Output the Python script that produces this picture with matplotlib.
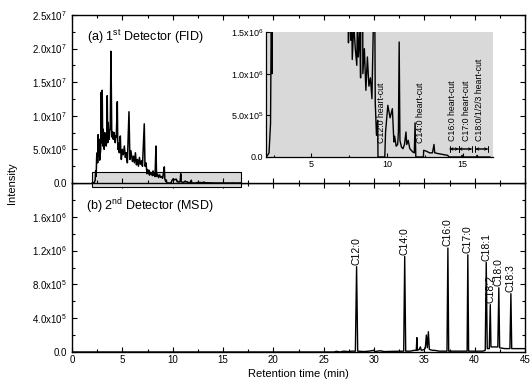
import matplotlib
matplotlib.use("Agg")
import matplotlib.pyplot as plt
from matplotlib.patches import Rectangle
from matplotlib.ticker import MultipleLocator, FixedLocator

plt.rcParams['font.family'] = ['Liberation Sans', 'DejaVu Sans']
plt.rcParams['mathtext.fontset'] = 'custom'
plt.rcParams['mathtext.rm'] = 'Liberation Sans'
plt.rcParams['mathtext.it'] = 'Liberation Sans'

# ---------------- data ----------------
# FID trace (1st detector), time in min, intensity in units of 1e6
fid_t = [2.0, 2.1, 2.2, 2.3, 2.35, 2.4, 2.45, 2.5, 2.55, 2.6, 2.65, 2.7, 2.75, 2.8, 2.85, 2.9,
         2.95, 3.0, 3.05, 3.1, 3.15, 3.2, 3.25, 3.3, 3.35, 3.4, 3.45, 3.5, 3.55, 3.6, 3.65, 3.7,
         3.75, 3.8, 3.87, 3.95, 4.0, 4.05, 4.1, 4.15, 4.2, 4.25, 4.3, 4.35, 4.4, 4.5, 4.55, 4.6,
         4.65, 4.7, 4.75, 4.8, 4.85, 4.9, 5.0, 5.1, 5.2, 5.3, 5.4, 5.5, 5.66, 5.75, 5.85, 6.0,
         6.1, 6.2, 6.3, 6.4, 6.5, 6.6, 6.7, 6.8, 6.9, 7.0, 7.18, 7.25, 7.35, 7.4,
         7.45, 7.5, 7.6, 7.65, 7.7, 7.8, 7.9, 8.0, 8.05, 8.1, 8.2, 8.25, 8.34, 8.4, 8.5, 8.6,
         8.7, 8.8, 8.9, 9.0, 9.1, 9.17, 9.22, 9.3, 9.38, 9.4, 9.85, 9.9, 10.05, 10.2, 10.35,
         10.45, 10.5, 10.6, 10.7, 10.75, 10.8, 10.85, 10.95, 11.05, 11.15, 11.25, 11.3, 11.4,
         11.5, 11.6, 11.7, 11.8, 11.85, 11.9, 12.4, 12.42, 12.6, 12.8, 13.0, 13.1, 13.15, 13.4,
         13.7, 14.0, 14.1, 14.9, 14.95, 15.0, 15.9, 15.95, 16.0, 16.8]
fid_v = [0.0, 0.02, 0.05, 0.4, 1.8, 1.0, 3.9, 4.5, 3.0, 7.2, 4.0, 6.5, 3.4, 4.2, 5.0, 13.5,
         6.0, 13.8, 5.5, 8.0, 6.2, 5.0, 7.5, 7.0, 5.8, 5.5, 6.8, 13.0, 6.0, 9.0, 7.2, 6.5,
         7.8, 8.0, 19.6, 7.0, 6.8, 7.6, 6.5, 7.2, 7.5, 6.2, 6.0, 7.0, 6.8, 12.1, 5.0, 6.0,
         5.2, 4.5, 6.3, 7.0, 4.6, 3.5, 5.0, 4.2, 5.5, 3.8, 4.5, 3.0, 10.6, 3.5, 4.8, 3.2,
         4.0, 3.0, 4.5, 2.7, 3.5, 2.5, 3.8, 2.8, 3.3, 2.5, 8.8, 2.5, 3.0, 2.2,
         1.37, 2.0, 1.4, 1.9, 1.17, 1.6, 1.3, 1.1, 1.8, 1.2, 1.5, 0.95, 5.5, 1.0, 1.3, 0.8,
         1.2, 0.85, 0.95, 0.7, 1.6, 2.4, 0.65, 0.26, 0.44, 0.0, 0.0, 0.3, 0.62, 0.47, 0.58,
         0.18, 0.25, 0.13, 0.15, 0.3, 1.38, 0.2, 0.12, 0.1, 0.15, 0.3, 0.15, 0.2,
         0.1, 0.08, 0.06, 0.05, 0.41, 0.0, 0.0, 0.08, 0.07, 0.05, 0.05, 0.15, 0.05, 0.04,
         0.03, 0.02, 0.0, 0.0, 0.02, 0.0, 0.0, 0.02, 0.0, 0.0]

# MSD trace (2nd detector), intensity in units of 1e6
msd_t = [0, 26.0, 26.3, 26.6, 27.0, 27.4, 27.8, 28.15, 28.27, 28.38, 29.0, 29.5, 30.0, 30.1,
         30.6, 31.0, 32.0, 32.95, 33.05, 33.15, 33.6, 34.0, 34.2, 34.26, 34.32, 34.5, 34.6,
         34.7, 35.0, 35.1, 35.2, 35.3, 35.4, 35.5, 35.8, 36.0, 36.5, 37.0, 37.25, 37.34,
         37.42, 38.0, 39.0, 39.25, 39.32, 39.4, 40.0, 40.8, 41.05, 41.15, 41.25, 41.45, 41.55,
         41.62, 42.0, 42.3, 42.4, 42.48, 43.0, 43.5, 43.6, 43.68, 45.0]
msd_v = [0, 0, 0.008, 0, 0.01, 0.005, 0.01, 0.01, 1.01, 0.01, 0.005, 0.01, 0.02, 0.005,
         0.015, 0.005, 0.008, 0.01, 1.13, 0.01, 0.01, 0.02, 0.02, 0.17, 0.02, 0.03, 0.06,
         0.02, 0.03, 0.05, 0.2, 0.05, 0.24, 0.03, 0.02, 0.02, 0.01, 0.01, 0.01, 1.23,
         0.01, 0.01, 0.01, 0.01, 1.15, 0.01, 0.01, 0.01, 0.02, 1.06, 0.04, 0.04, 0.56,
         0.06, 0.06, 0.06, 0.76, 0.05, 0.04, 0.04, 0.69, 0.04, 0.04]

peak_names = ['C12:0', 'C14:0', 'C16:0', 'C17:0', 'C18:1', 'C18:2', 'C18:0', 'C18:3']
peak_times = [28.27, 33.05, 37.34, 39.32, 41.15, 41.55, 42.4, 43.6]
peak_heights = [1.01, 1.13, 1.23, 1.15, 1.06, 0.56, 0.76, 0.69]

# heart-cut annotations in the inset
cut_names = ['C12:0 heart-cut', 'C14:0 heart-cut', 'C16:0 heart-cut', 'C17:0 heart-cut',
             'C18:0/1/2/3 heart-cut']
cut_label_t = [9.62, 12.2, 14.3, 15.25, 16.1]
cut_label_y = [0.17, 0.17, 0.19, 0.19, 0.19]
arrow_starts = [14.14, 14.73, 15.84]
arrow_ends = [14.73, 15.6, 16.66]
arrow_y = 0.096

top_yticks = [0, 5e6, 1e7, 1.5e7, 2e7, 2.5e7]
top_yticklabels = ['0.0', '5.0x10$^6$', '1.0x10$^7$', '1.5x10$^7$', '2.0x10$^7$', '2.5x10$^7$']
bot_yticks = [0, 4e5, 8e5, 1.2e6, 1.6e6]
bot_yticklabels = ['0.0', '4.0x10$^5$', '8.0x10$^5$', '1.2x10$^6$', '1.6x10$^6$']
ins_yticks = [0, 5e5, 1e6, 1.5e6]
ins_yticklabels = ['0.0', '5.0x10$^5$', '1.0x10$^6$', '1.5x10$^6$']
x_ticks = [0, 5, 10, 15, 20, 25, 30, 35, 40, 45]
ins_xticks = [5, 10, 15]

GRAY = '#d9d9d9'
fid_y = [v * 1e6 for v in fid_v]
msd_y = [v * 1e6 for v in msd_v]

fig = plt.figure(figsize=(5.32, 3.88), dpi=100)

L, W = 72 / 532, 453 / 532
ax2 = fig.add_axes([L, 36 / 388, W, 169 / 388])
ax1 = fig.add_axes([L, 205 / 388, W, 168 / 388])
ax2.patch.set_visible(False)


def style(ax):
    ax.tick_params(which='both', direction='in', top=True, right=True, labelsize=7, width=0.8)
    ax.tick_params(which='major', length=3.5)
    ax.tick_params(which='minor', length=2)
    for s in ax.spines.values():
        s.set_linewidth(1.0)


# ---- bottom panel (MSD)
ax2.plot(msd_t, msd_y, color='black', lw=1.0)
ax2.set_xlim(0, 45)
ax2.set_ylim(0, 2.0e6)
ax2.yaxis.set_major_locator(FixedLocator(bot_yticks))
ax2.set_yticklabels(bot_yticklabels)
ax2.yaxis.set_minor_locator(MultipleLocator(2e5))
ax2.xaxis.set_major_locator(FixedLocator(x_ticks))
ax2.set_xticklabels([str(x) for x in x_ticks])
ax2.xaxis.set_minor_locator(MultipleLocator(2.5))
style(ax2)
ax2.tick_params(axis='x', pad=2)
for n, t, h in zip(peak_names, peak_times, peak_heights):
    ax2.text(t, h * 1e6 + 0.02e6, n, rotation=90, ha='center', va='bottom', fontsize=7.5)
ax2.text(1.4, 1.72e6, '(b) 2$^{nd}$ Detector (MSD)', fontsize=9, va='center')
ax2.set_xlabel('Retention time (min)', fontsize=8, labelpad=3)

# ---- top panel (FID)
ax1.add_patch(Rectangle((2.0, -0.6e6), 14.8, 2.25e6, facecolor=GRAY, edgecolor='black',
                        lw=0.8, clip_on=False, zorder=1))
ax1.plot(fid_t, fid_y, color='black', lw=1.1, zorder=2)
ax1.set_xlim(0, 45)
ax1.set_ylim(0, 2.5e7)
ax1.yaxis.set_major_locator(FixedLocator(top_yticks))
ax1.set_yticklabels(top_yticklabels)
ax1.yaxis.set_minor_locator(MultipleLocator(2.5e6))
ax1.xaxis.set_major_locator(FixedLocator(x_ticks))
ax1.xaxis.set_minor_locator(MultipleLocator(2.5))
ax1.set_xticklabels([])
style(ax1)
ax1.text(1.5, 2.18e7, '(a) 1$^{st}$ Detector (FID)', fontsize=9, va='center')

fig.text(0.022, 205 / 388, 'Intensity', rotation=90, va='center', ha='center', fontsize=8)

# ---- inset
axi = fig.add_axes([266 / 532, 231 / 388, 227 / 532, 125 / 388])
axi.set_facecolor(GRAY)
axi.plot(fid_t, fid_y, color='black', lw=1.0)
axi.set_xlim(2.0, 17.0)
axi.set_ylim(0, 1.5e6)
axi.spines['top'].set_visible(False)
axi.spines['right'].set_visible(False)
axi.xaxis.set_major_locator(FixedLocator(ins_xticks))
axi.set_xticklabels([str(x) for x in ins_xticks])
axi.xaxis.set_minor_locator(MultipleLocator(2.5))
axi.yaxis.set_major_locator(FixedLocator(ins_yticks))
axi.set_yticklabels(ins_yticklabels)
axi.tick_params(which='both', direction='in', labelsize=6.5, width=0.8, pad=2)
axi.tick_params(which='major', length=3)
axi.tick_params(which='minor', length=1.5)
for s in ('left', 'bottom'):
    axi.spines[s].set_linewidth(0.9)
for n, t, y in zip(cut_names, cut_label_t, cut_label_y):
    axi.text(t, y * 1e6, n, rotation=90, ha='center', va='bottom', fontsize=6.3)
for a, b in zip(arrow_starts, arrow_ends):
    axi.annotate('', xy=(b, arrow_y * 1e6), xytext=(a, arrow_y * 1e6),
                 arrowprops=dict(arrowstyle='|-|', lw=0.7, shrinkA=0, shrinkB=0,
                                 mutation_scale=2.5))
    axi.annotate('', xy=(b, arrow_y * 1e6), xytext=(a, arrow_y * 1e6),
                 arrowprops=dict(arrowstyle='<->', lw=0.7, shrinkA=0, shrinkB=0,
                                 mutation_scale=4))

fig.savefig('out.png', dpi=100)
